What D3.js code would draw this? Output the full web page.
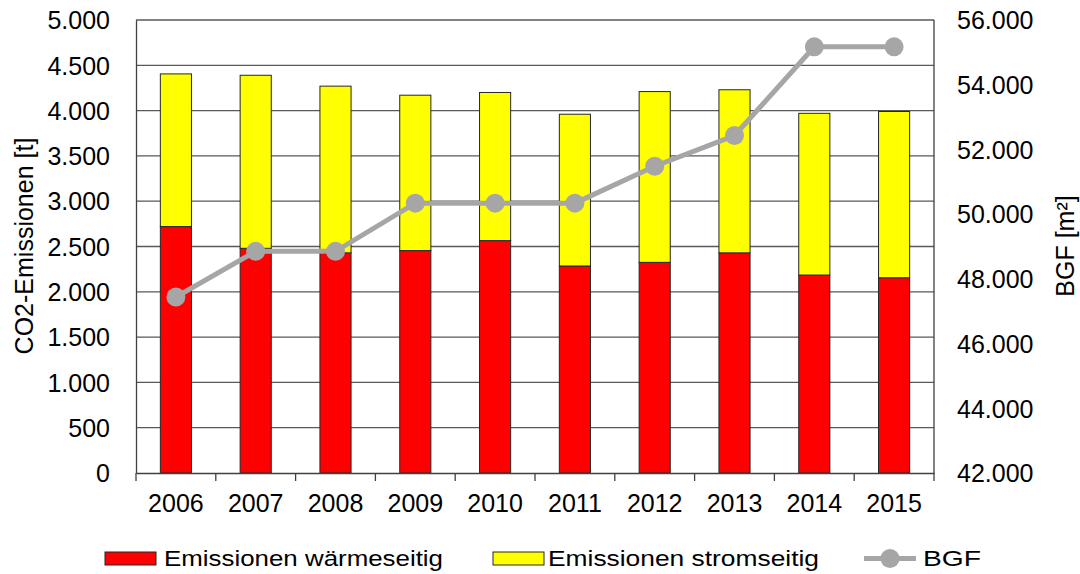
<!DOCTYPE html>
<html>
<head>
<meta charset="utf-8">
<script src="https://cdn.jsdelivr.net/npm/d3@7"></script>
<style>
  body { margin: 0; background: #fff; }
  svg text { font-family: "Liberation Sans", Arial, sans-serif; fill: #000; }
</style>
</head>
<body>
<script>
// Werte
var years = ["2006", "2007", "2008", "2009", "2010", "2011", "2012", "2013", "2014", "2015"];
var waerme = [2720, 2480, 2430, 2455, 2565, 2285, 2325, 2430, 2185, 2155];
var strom = [1685, 1910, 1840, 1715, 1635, 1675, 1885, 1800, 1785, 1835];
var bgf = [47440, 48850, 48850, 50340, 50340, 50340, 51480, 52430, 55170, 55170];
var leftTicks = [0, 500, 1000, 1500, 2000, 2500, 3000, 3500, 4000, 4500, 5000];
var rightTicks = [42000, 44000, 46000, 48000, 50000, 52000, 54000, 56000];

var width = 1080, height = 574;
var margin = { top: 20, right: 146, bottom: 101, left: 136 };

var de = d3.formatLocale({ decimal: ",", thousands: ".", grouping: [3], currency: ["", " €"] });
var fmt = de.format(",d");

var svg = d3.select("body").append("svg")
    .attr("width", width)
    .attr("height", height);

var x = d3.scaleBand().domain(years)
    .range([margin.left, width - margin.right])
    .paddingInner(0.61).paddingOuter(0.305);
var xCat = d3.scaleBand().domain(years)
    .range([margin.left, width - margin.right]);
var y = d3.scaleLinear().domain([0, 5000]).range([height - margin.bottom, margin.top]);
var y2 = d3.scaleLinear().domain([42000, 56000]).range([height - margin.bottom, margin.top]);

// Gitterlinien
svg.append("g")
    .selectAll("line")
    .data(leftTicks.slice(1))
    .enter().append("line")
    .attr("x1", margin.left).attr("x2", width - margin.right)
    .attr("y1", d => y(d)).attr("y2", d => y(d))
    .attr("stroke", "#595959").attr("stroke-width", 1.3);

// Rahmen rechts
svg.append("line")
    .attr("x1", width - margin.right).attr("x2", width - margin.right)
    .attr("y1", margin.top).attr("y2", height - margin.bottom)
    .attr("stroke", "#404040").attr("stroke-width", 1.3);

// gestapelte Balken
var rows = years.map((yr, i) => ({ year: yr, waerme: waerme[i], strom: strom[i] }));
var stack = d3.stack().keys(["waerme", "strom"])(rows);
var colors = { waerme: "#ff0000", strom: "#ffff00" };

svg.append("g")
    .selectAll("g")
    .data(stack)
    .enter().append("g")
    .attr("fill", d => colors[d.key])
    .selectAll("rect")
    .data(d => d)
    .enter().append("rect")
    .attr("x", d => x(d.data.year))
    .attr("width", x.bandwidth())
    .attr("y", d => y(d[1]))
    .attr("height", d => y(d[0]) - y(d[1]))
    .attr("stroke", "#262626").attr("stroke-width", 1);

// linke Achse
var yAxis = svg.append("g")
    .attr("transform", "translate(" + margin.left + ",0)")
    .call(d3.axisLeft(y).tickValues(leftTicks).tickFormat(fmt).tickSize(0).tickPadding(26));
yAxis.select(".domain").attr("stroke", "#404040").attr("stroke-width", 1.3);
yAxis.selectAll("text").style("font-size", "25px").attr("dy", "0.35em");

// rechte Achse
var y2Axis = svg.append("g")
    .attr("transform", "translate(" + (width - margin.right) + ",0)")
    .call(d3.axisRight(y2).tickValues(rightTicks).tickFormat(fmt).tickSize(0).tickPadding(23));
y2Axis.select(".domain").remove();
y2Axis.selectAll("text").style("font-size", "25px").attr("dy", "0.35em");

// x-Achse
var xAxis = svg.append("g")
    .attr("transform", "translate(0," + (height - margin.bottom) + ")")
    .call(d3.axisBottom(xCat).tickSize(0).tickPadding(21));
xAxis.select(".domain").attr("stroke", "#404040").attr("stroke-width", 1.3);
xAxis.selectAll("text").style("font-size", "25px");
var bounds = years.map(d => xCat(d)).concat([width - margin.right]);
xAxis.append("g").selectAll("line")
    .data(bounds)
    .enter().append("line")
    .attr("x1", d => d).attr("x2", d => d)
    .attr("y1", 0).attr("y2", 8)
    .attr("stroke", "#404040").attr("stroke-width", 1.3);

// BGF-Linie
var line = d3.line()
    .x((d, i) => x(years[i]) + x.bandwidth() / 2)
    .y(d => y2(d));
svg.append("path")
    .datum(bgf)
    .attr("d", line)
    .attr("fill", "none")
    .attr("stroke", "#a6a6a6").attr("stroke-width", 5);
svg.append("g")
    .selectAll("circle")
    .data(bgf)
    .enter().append("circle")
    .attr("cx", (d, i) => x(years[i]) + x.bandwidth() / 2)
    .attr("cy", d => y2(d))
    .attr("r", 9.5)
    .attr("fill", "#a6a6a6");

// Achsentitel
svg.append("text")
    .attr("transform", "translate(33,246) rotate(-90)")
    .attr("text-anchor", "middle")
    .style("font-size", "25px")
    .text("CO2-Emissionen [t]");
svg.append("text")
    .attr("transform", "translate(1074,246) rotate(-90)")
    .attr("text-anchor", "middle")
    .style("font-size", "25px")
    .text("BGF [m²]");

// Legende
var legend = svg.append("g");
var lg = [
    { label: "Emissionen wärmeseitig", type: "rect", color: colors.waerme, x: 105, tx: 164, tw: 279 },
    { label: "Emissionen stromseitig", type: "rect", color: colors.strom, x: 493, tx: 548, tw: 271 },
    { label: "BGF", type: "line", color: "#a6a6a6", x: 864, tx: 923, tw: 58 }
];
lg.forEach(function(d) {
    if (d.type === "rect") {
        legend.append("rect")
            .attr("x", d.x).attr("y", 552).attr("width", 51).attr("height", 13)
            .attr("fill", d.color).attr("stroke", "#262626").attr("stroke-width", 1);
    } else {
        legend.append("line")
            .attr("x1", d.x).attr("x2", d.x + 52).attr("y1", 558.5).attr("y2", 558.5)
            .attr("stroke", d.color).attr("stroke-width", 5);
        legend.append("circle")
            .attr("cx", d.x + 26).attr("cy", 558.5).attr("r", 9.5).attr("fill", d.color);
    }
    legend.append("text")
        .attr("x", d.tx).attr("y", 566)
        .attr("textLength", d.tw).attr("lengthAdjust", "spacingAndGlyphs")
        .style("font-size", "22px")
        .text(d.label);
});
</script>
</body>
</html>
